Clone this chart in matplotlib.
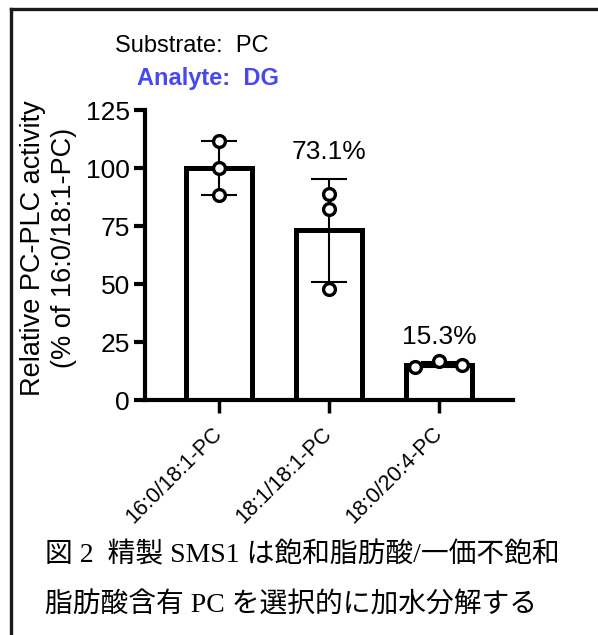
import matplotlib
matplotlib.use("Agg")
import matplotlib.pyplot as plt
import numpy as np
from matplotlib.lines import Line2D

plt.rcParams["font.family"] = ["Liberation Sans", "DejaVu Sans"]

# data
categories = ["16:0/18:1-PC", "18:1/18:1-PC", "18:0/20:4-PC"]
means = [100.0, 73.1, 15.3]
replicates = [
    [111.5, 100.0, 88.5],
    [89.0, 82.5, 47.8],
    [14.3, 16.6, 15.0],
]
point_offsets = [
    [0.0, 0.0, 0.0],
    [0.0, 0.0, 0.0],
    [-0.22, 0.0, 0.21],
]
pct_labels = ["", "73.1%", "15.3%"]
pct_label_y = [None, 106.9, 27.2]
yticks = [0, 25, 50, 75, 100, 125]

caption1 = "図 2  精製 SMS1 は飽和脂肪酸/一価不飽和"
caption2 = "脂肪酸含有 PC を選択的に加水分解する"

W, H = 598, 635
fig = plt.figure(figsize=(W / 100, H / 100), dpi=100)
ax = fig.add_axes([145 / W, 1 - 400 / H, 368 / W, 290 / H])

x = np.arange(len(categories))
sds = [np.std(r, ddof=1) for r in replicates]

ax.bar(x, means, width=0.6, color="white", edgecolor="black", linewidth=3.6, zorder=2)
ax.errorbar(x, means, yerr=sds, fmt="none", ecolor="black", elinewidth=1.5,
            capsize=13, capthick=1.5, zorder=3)
for i, (vals, offs) in enumerate(zip(replicates, point_offsets)):
    ax.plot(np.array(offs) + x[i], vals, "o", ms=8.5, mfc="white", mec="black",
            mew=2.4, zorder=4, clip_on=False)

for i, lab in enumerate(pct_labels):
    if lab:
        ax.text(x[i], pct_label_y[i], lab, ha="center", va="center", fontsize=19)

ax.set_xlim(-0.67, 2.67)
ax.set_ylim(0, 125)
ax.set_yticks(yticks)
ax.set_yticklabels([str(t) for t in yticks], fontsize=19)
ax.set_xticks(x)
ax.set_xticklabels(categories, fontsize=15.5, rotation=45, ha="right", va="center",
                   rotation_mode="anchor")
ax.tick_params(axis="y", length=8, width=3, pad=3)
ax.tick_params(axis="x", length=9, width=2.5, pad=13)
for s in ["top", "right"]:
    ax.spines[s].set_visible(False)
ax.spines["left"].set_linewidth(3)
ax.spines["bottom"].set_linewidth(3)
ax.spines["bottom"].set_zorder(5)

fig.text(49 / W, 1 - 248 / H, "Relative PC-PLC activity\n(% of 16:0/18:1-PC)",
         rotation=90, ha="center", va="center", ma="center", fontsize=19.5,
         linespacing=1.25)

fig.text(191.5 / W, 1 - 46 / H, "Substrate:  PC", ha="center", va="center", fontsize=17)
fig.text(208 / W, 1 - 78 / H, "Analyte:  DG", ha="center", va="center", fontsize=17,
         weight="bold", color="#4848f2")

cap_font = ["Liberation Serif", "Noto Sans CJK JP"]
fig.text(45 / W, 1 - 555 / H, caption1, ha="left", va="center", fontsize=20,
         family=cap_font)
fig.text(45 / W, 1 - 605 / H, caption2, ha="left", va="center", fontsize=20,
         family=cap_font)

# frame around the panel (left and top edges)
fig.add_artist(Line2D([11 / W, 11 / W], [0, 1 - 8.5 / H], color="#1a1a1a", lw=2.4,
                      transform=fig.transFigure, solid_capstyle="projecting"))
fig.add_artist(Line2D([11 / W, 1], [1 - 8.5 / H, 1 - 8.5 / H], color="#1a1a1a", lw=2.4,
                      transform=fig.transFigure, solid_capstyle="projecting"))

fig.savefig("out.png", dpi=100)
